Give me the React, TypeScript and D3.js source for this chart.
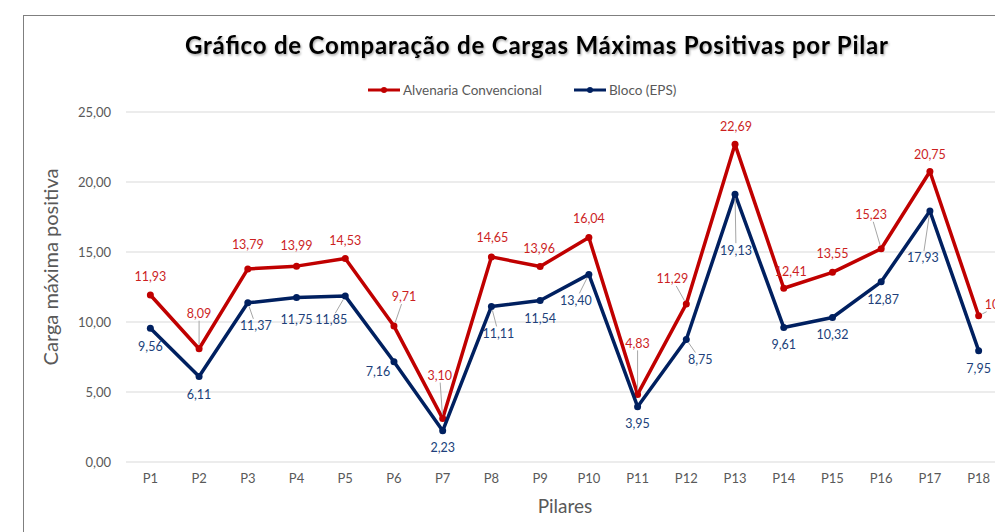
import * as d3 from "d3";

const pilares = ["P1", "P2", "P3", "P4", "P5", "P6", "P7", "P8", "P9", "P10", "P11", "P12", "P13", "P14", "P15", "P16", "P17", "P18"];
const alvenaria = [11.93, 8.09, 13.79, 13.99, 14.53, 9.71, 3.10, 14.65, 13.96, 16.04, 4.83, 11.29, 22.69, 12.41, 13.55, 15.23, 20.75, 10.45];
const bloco = [9.56, 6.11, 11.37, 11.75, 11.85, 7.16, 2.23, 11.11, 11.54, 13.40, 3.95, 8.75, 19.13, 9.61, 10.32, 12.87, 17.93, 7.95];
const yTicks = [0, 5, 10, 15, 20, 25];

// where Excel dropped each data label, relative to its point
const redLabelOffset = [[0, -18], [0, -35], [0, -24], [0, -21], [0, -18], [10, -29], [-3, -43], [1, -19], [-1, -18], [0, -19], [0, -51], [-14, -25], [1, -18], [7, -17], [0, -19], [-10, -34], [0, -17], [22, -11]];
const blueLabelOffset = [[0, 18], [0, 18], [8, 23], [0, 22], [-14, 24], [-16, 10], [0, 17], [7, 27], [0, 18], [-13, 26], [0, 17], [14, 20], [1, 56], [0, 17], [0, 17], [2, 18], [-7, 47], [0, 18]];

const W = 995, H = 532;
const FONT = "Lato, 'Open Sans', sans-serif";
const RED = "#C00000", BLUE = "#002060";
const RED_TXT = "#CC1F1F", BLUE_TXT = "#203F7A";

const fmt = (v: number) => v.toFixed(2).replace(".", ",");

function leader(px: number, py: number, dx: number, dy: number) {
  const dist = Math.hypot(dx, dy);
  if (dist <= 24) return null;
  // clip towards the label box edge
  const hw = 16, hh = 7;
  const t = Math.min(Math.abs(dx) > 0 ? hw / Math.abs(dx) : Infinity, Math.abs(dy) > 0 ? hh / Math.abs(dy) : Infinity);
  const ex = px + dx - dx * t, ey = py + dy - dy * t;
  const sx = px + (dx / dist) * 4, sy = py + (dy / dist) * 4;
  return <line x1={sx} y1={sy} x2={ex} y2={ey} stroke="#A6A6A6" strokeWidth={1} />;
}

export default function App() {
  const x = d3.scaleBand().domain(pilares).range([126, 1003]);
  const cx = (p: string) => (x(p) ?? 0) + x.bandwidth() / 2;
  const y = d3.scaleLinear().domain([0, 25]).range([462, 112]);

  const line = d3.line<number>().x((_, i) => cx(pilares[i])).y(v => y(v));

  const series = [
    { values: alvenaria, color: RED, txt: RED_TXT, off: redLabelOffset },
    { values: bloco, color: BLUE, txt: BLUE_TXT, off: blueLabelOffset },
  ];

  return (
    <svg width={W} height={H} style={{ position: "fixed", left: 0, top: 0, background: "#fff" }} fontFamily={FONT}>
      <defs>
        <filter id="shadow" x="-5%" y="-30%" width="110%" height="160%">
          <feDropShadow dx="1" dy="1.5" stdDeviation="1" floodColor="#000" floodOpacity="0.35" />
        </filter>
      </defs>
      <rect x={23.5} y={15.5} width={1100} height={600} fill="#fff" stroke="#7F7F7F" strokeWidth={1} />

      <text x={536.5} y={54} textAnchor="middle" fontSize={24} fontWeight={700} fill="#000" textLength={703} filter="url(#shadow)">
        Gráfico de Comparação de Cargas Máximas Positivas por Pilar
      </text>

      {/* legend */}
      <g fontSize={13.5} fill="#595959">
        <line x1={368} x2={400} y1={90} y2={90} stroke={RED} strokeWidth={3} />
        <circle cx={384} cy={90} r={3} fill={RED} />
        <text x={403} y={94.5}>Alvenaria Convencional</text>
        <line x1={574} x2={606} y1={90} y2={90} stroke={BLUE} strokeWidth={3} />
        <circle cx={590} cy={90} r={3} fill={BLUE} />
        <text x={609} y={94.5}>Bloco (EPS)</text>
      </g>

      {/* grid + y ticks */}
      {yTicks.map(t => (
        <g key={t}>
          <line x1={126} x2={1003} y1={y(t)} y2={y(t)} stroke="#D9D9D9" strokeWidth={1} />
          <text x={111} y={y(t)} dy="0.35em" textAnchor="end" fontSize={13} fill="#595959">{fmt(t)}</text>
        </g>
      ))}

      {/* x ticks */}
      {pilares.map(p => (
        <text key={p} x={cx(p)} y={483} textAnchor="middle" fontSize={13} fill="#595959">{p}</text>
      ))}

      <text transform="translate(58,267) rotate(-90)" textAnchor="middle" fontSize={20} fill="#595959">Carga máxima positiva</text>
      <text x={565} y={513} textAnchor="middle" fontSize={19} fill="#595959">Pilares</text>

      {series.map((s, si) => (
        <g key={si}>
          <path d={line(s.values) ?? ""} fill="none" stroke={s.color} strokeWidth={3.5} strokeLinejoin="round" />
          {s.values.map((v, i) => (
            <circle key={i} cx={cx(pilares[i])} cy={y(v)} r={3.5} fill={s.color} />
          ))}
        </g>
      ))}

      {series.map((s, si) => (
        <g key={"lab" + si}>
          {s.values.map((v, i) => {
            const px = cx(pilares[i]), py = y(v);
            const [dx, dy] = s.off[i];
            return (
              <g key={i}>
                {leader(px, py, dx, dy)}
                <text x={px + dx} y={py + dy} dy="0.35em" textAnchor="middle" fontSize={12.5} fill={s.txt}>{fmt(v)}</text>
              </g>
            );
          })}
        </g>
      ))}
    </svg>
  );
}
